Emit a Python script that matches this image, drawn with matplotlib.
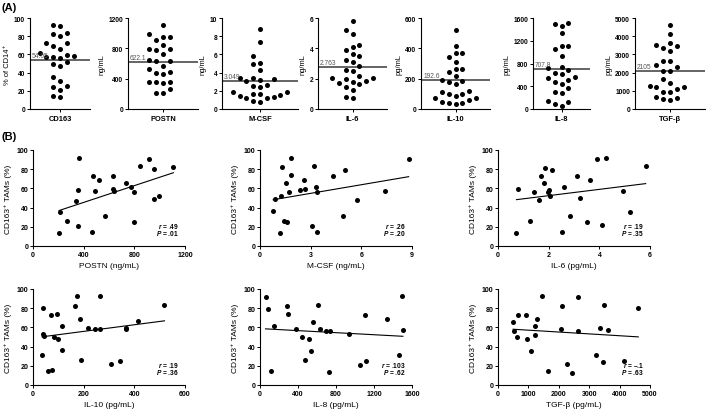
import numpy as np
import matplotlib
matplotlib.use("Agg")
import matplotlib.pyplot as plt

plt.rcParams['font.family'] = ['Liberation Sans', 'DejaVu Sans']
plt.rcParams['font.weight'] = 'bold'
plt.rcParams['mathtext.fontset'] = 'custom'
plt.rcParams['mathtext.it'] = 'Liberation Sans:bold:italic'
plt.rcParams['mathtext.rm'] = 'Liberation Sans:bold'
plt.rcParams['axes.linewidth'] = 0.8

# ---- data (25 patients per panel) ----
postn_x = [361, 916, 844, 1108, 955, 475, 633, 522, 731, 773, 633, 641, 359, 491, 797,
           340, 955, 992, 567, 216, 269, 356, 797, 464, 206]
postn_y = [92, 91, 83, 82, 80, 73, 73, 69, 66, 61, 59.5, 57, 58, 57, 56,
           47, 49, 52, 31, 35.5, 25.6, 21, 24.5, 14.5, 13.5]

mcsf_x = [1.85, 8.8, 1.3, 3.2, 5.05, 4.3, 1.83, 2.58, 1.52, 3.32, 2.39, 2.64, 1.69, 3.36, 7.38,
          0.89, 1.24, 5.77, 0.78, 1.4, 1.6, 4.9, 3.07, 3.38, 1.18]
mcsf_y = [92, 91, 82, 83, 79, 73, 73.5, 68.6, 65.5, 61.4, 58.3, 59, 56.5, 56.5, 57,
          49, 52, 47.6, 36, 26, 25, 31, 21, 15, 13.4]

il6_x = [0.73, 0.8, 1.26, 1.44, 1.63, 1.69, 1.84, 1.81, 1.96, 2.02, 2.05, 2.15, 2.53, 2.59, 2.84,
         3.1, 3.22, 3.62, 3.52, 3.91, 4.12, 4.25, 4.93, 5.22, 5.83]
il6_y = [13.4, 59, 26, 56.5, 47.6, 73.4, 81.7, 65.5, 56.5, 58.3, 52.4, 79, 14.8, 61.4, 31.4,
         73, 49.7, 68.6, 24.8, 91, 21.4, 92, 57.2, 35.9, 83]

il10_x = [39, 39, 43, 36, 60, 75, 71, 84, 97, 96, 115, 116, 167, 175, 185, 188, 217, 245, 264,
          264, 309, 344, 367, 367, 415, 519]
il10_y = [80, 53.3, 51, 31.6, 14.7, 15.4, 73.3, 50, 48, 74, 61.8, 36, 82.5, 92.6, 69, 26, 59, 58, 58,
          92.6, 22, 25, 59.6, 58.2, 66.7, 83.5]

il8_x = [58, 85, 147, 116, 284, 294, 376, 444, 475, 513, 537, 561, 615, 629, 694, 738, 725, 940,
         1050, 1111, 1108, 1333, 1497, 1504, 1467]
il8_y = [91.7, 79.5, 61.5, 15, 82, 74, 58.7, 49.7, 25.7, 47.6, 35.4, 65.6, 83.3, 58.3, 56.6, 56.6,
         13.5, 52.8, 21, 24.6, 73.3, 68.8, 92.7, 57.6, 31.6]

tgfb_x = [497, 530, 618, 651, 927, 949, 1093, 1203, 1214, 1269, 1446, 1656, 2097, 2086, 2285, 2440,
          2638, 2616, 3212, 3344, 3444, 3499, 3631, 4139, 4614]
tgfb_y = [65.4, 56.3, 49.7, 73.4, 73.4, 47.6, 35.7, 52, 61.5, 68.9, 92.7, 14.7, 82.2, 58.4, 21.7, 12.9,
          91.6, 56.6, 31.1, 59, 24.1, 83.6, 57.7, 25.5, 79.7]

# top row: column scatter
col_names = ["CD163", "POSTN", "M-CSF", "IL-6", "IL-10", "IL-8", "TGF-\u03b2"]
col_units = ["% of CD14\u207a", "ng/mL", "ng/mL", "ng/mL", "pg/mL", "pg/mL", "pg/mL"]
col_values = [postn_y, postn_x, mcsf_x, il6_x, il10_x, il8_x, tgfb_x]
col_means = [54.05, 622.1, 3.049, 2.763, 192.6, 707.8, 2105]
col_mean_text = ["54.05", "622.1", "3.049", "2.763", "192.6", "707.8", "2105"]
col_ymax = [100, 1200, 10, 6, 600, 1600, 5000]
col_ystep = [20, 400, 2, 2, 200, 400, 1000]

# bottom: correlations
sc_x = [postn_x, mcsf_x, il6_x, il10_x, il8_x, tgfb_x]
sc_y = [postn_y, mcsf_y, il6_y, il10_y, il8_y, tgfb_y]
sc_xlabel = ["POSTN (ng/mL)", "M-CSF (ng/mL)", "IL-6 (pg/mL)",
             "IL-10 (pg/mL)", "IL-8 (pg/mL)", "TGF-\u03b2 (pg/mL)"]
sc_xmax = [1200, 9, 6, 600, 1600, 5000]
sc_xstep = [400, 3, 2, 200, 400, 1000]
sc_r = [".49", ".26", ".19", ".19", ".103", "\u2013.1"]
sc_p = [".01", ".20", ".35", ".36", ".62", ".63"]

W, H = 709, 414
fig = plt.figure(figsize=(W / 100, H / 100), dpi=100)


def px_axes(x0, y0, w, h):
    return fig.add_axes([x0 / W, 1 - (y0 + h) / H, w / W, h / H])


def swarm(vals, ymax, h_px, d_px):
    # simple beeswarm: offsets in pixels
    ypx = np.array(vals) / ymax * h_px
    order = np.argsort(ypx)
    placed = []
    offs = np.zeros(len(vals))
    cands = sorted([k * d_px for k in range(-8, 9)], key=lambda c: (abs(c), c))
    for i in order:
        for c in cands:
            if all((c - ox) ** 2 + (ypx[i] - oy) ** 2 >= d_px ** 2 for ox, oy in placed):
                offs[i] = c
                placed.append((c, ypx[i]))
                break
    return offs


col_left = [30, 128, 222, 318, 421, 533, 635]
col_w = [60, 70, 76, 69, 69, 57, 70]
top_y, top_h = 19, 91

for i in range(7):
    ax = px_axes(col_left[i], top_y, col_w[i], top_h)
    offs = swarm(col_values[i], col_ymax[i], top_h, 6.8)
    xs = offs / (col_w[i] / 2)
    ax.scatter(xs, col_values[i], s=13, color='black', zorder=3, clip_on=False, linewidths=0)
    ax.axhline(col_means[i], color='#3a3a3a', lw=1.1, zorder=2)
    ax.text(0.03, col_means[i] + col_ymax[i] * 0.01, col_mean_text[i],
            transform=ax.get_yaxis_transform(), fontsize=4.8, color='#555555',
            fontweight='normal', va='bottom', ha='left')
    ax.set_xlim(-1, 1)
    ax.set_ylim(0, col_ymax[i])
    ax.set_yticks(np.arange(0, col_ymax[i] + 1e-9, col_ystep[i]))
    ax.set_xticks([0])
    ax.set_xticklabels([col_names[i]], fontsize=5.4)
    ax.set_ylabel(col_units[i], fontsize=5.4, labelpad=2)
    ax.tick_params(axis='y', labelsize=4.8, length=2, width=0.7, pad=1.5)
    ax.tick_params(axis='x', length=2, width=0.7, pad=2.5)
    ax.spines['top'].set_visible(False)
    ax.spines['right'].set_visible(False)

sc_left = [33, 260, 498]
sc_top = [151, 290]
sc_w, sc_h = 152, 96

for i in range(6):
    ax = px_axes(sc_left[i % 3], sc_top[i // 3], sc_w, sc_h)
    x = np.array(sc_x[i], dtype=float)
    y = np.array(sc_y[i], dtype=float)
    ax.scatter(x, y, s=13, color='black', zorder=3, clip_on=False, linewidths=0)
    k, b = np.polyfit(x, y, 1)
    xx = np.array([x.min(), x.max()])
    ax.plot(xx, k * xx + b, color='black', lw=0.8)
    ax.set_xlim(0, sc_xmax[i])
    ax.set_ylim(0, 100)
    ax.set_xticks(np.arange(0, sc_xmax[i] + 1e-9, sc_xstep[i]))
    ax.set_yticks(np.arange(0, 101, 20))
    ax.set_xlabel(sc_xlabel[i], fontsize=6, labelpad=3)
    ax.set_ylabel("CD163\u207a TAMs (%)", fontsize=6, labelpad=3)
    ax.tick_params(labelsize=5, length=2, width=0.7, pad=1.5)
    ax.spines['top'].set_visible(False)
    ax.spines['right'].set_visible(False)
    ax.text(0.96, 0.17, "$r$ = " + sc_r[i], transform=ax.transAxes, fontsize=4.8,
            ha='right', va='bottom')
    ax.text(0.96, 0.09, "$P$ = " + sc_p[i], transform=ax.transAxes, fontsize=4.8,
            ha='right', va='bottom')

fig.text(2 / W, 1 - 3 / H, "(A)", fontsize=8, fontweight='bold', va='top', ha='left')
fig.text(2 / W, 1 - 132 / H, "(B)", fontsize=8, fontweight='bold', va='top', ha='left')

fig.savefig("out.png", dpi=100)
